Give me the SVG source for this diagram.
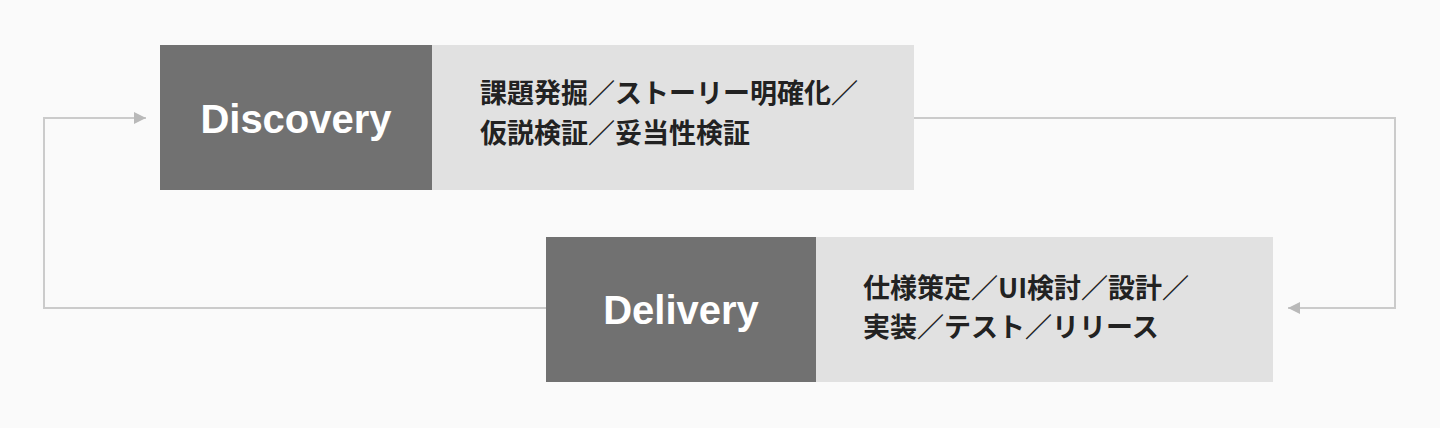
<svg xmlns="http://www.w3.org/2000/svg" width="1440" height="428" viewBox="0 0 1440 428">
<style>
.dark{fill:#717171}
.light{fill:#e1e1e1}
.title{font-family:"Liberation Sans",Arial,sans-serif;font-weight:bold;font-size:40px;fill:#ffffff;text-anchor:middle}
.desc{font-family:"Noto Sans CJK JP",sans-serif;font-weight:bold;font-size:27px;fill:#222222}
.conn{fill:none;stroke:#cbcbcb;stroke-width:2}
</style>
<defs>
<marker id="arr" markerWidth="12" markerHeight="12" refX="12" refY="6" orient="auto" markerUnits="userSpaceOnUse">
<path d="M0,0 L12,6 L0,12 Z" fill="#b9b9b9"/>
</marker>
</defs>
<rect width="1440" height="428" fill="#fafafa"/>
<g id="connectors">
<polyline class="conn" points="914,118 1395,118 1395,308 1288,308" marker-end="url(#arr)"/>
<polyline class="conn" points="546,308 44,308 44,118 146,118" marker-end="url(#arr)"/>
</g>
<g id="discovery">
<rect class="light" x="432" y="45" width="482" height="145"/>
<rect class="dark" x="160" y="45" width="272" height="145"/>
<text class="title" x="296" y="133">Discovery</text>
<text class="desc" x="480" y="103">課題発掘／ストーリー明確化／</text>
<text class="desc" x="480" y="143">仮説検証／妥当性検証</text>
</g>
<g id="delivery">
<rect class="light" x="816" y="237" width="457" height="145"/>
<rect class="dark" x="546" y="237" width="270" height="145"/>
<text class="title" x="681" y="324">Delivery</text>
<text class="desc" x="863" y="298">仕様策定／UI検討／設計／</text>
<text class="desc" x="863" y="337">実装／テスト／リリース</text>
</g>
</svg>
